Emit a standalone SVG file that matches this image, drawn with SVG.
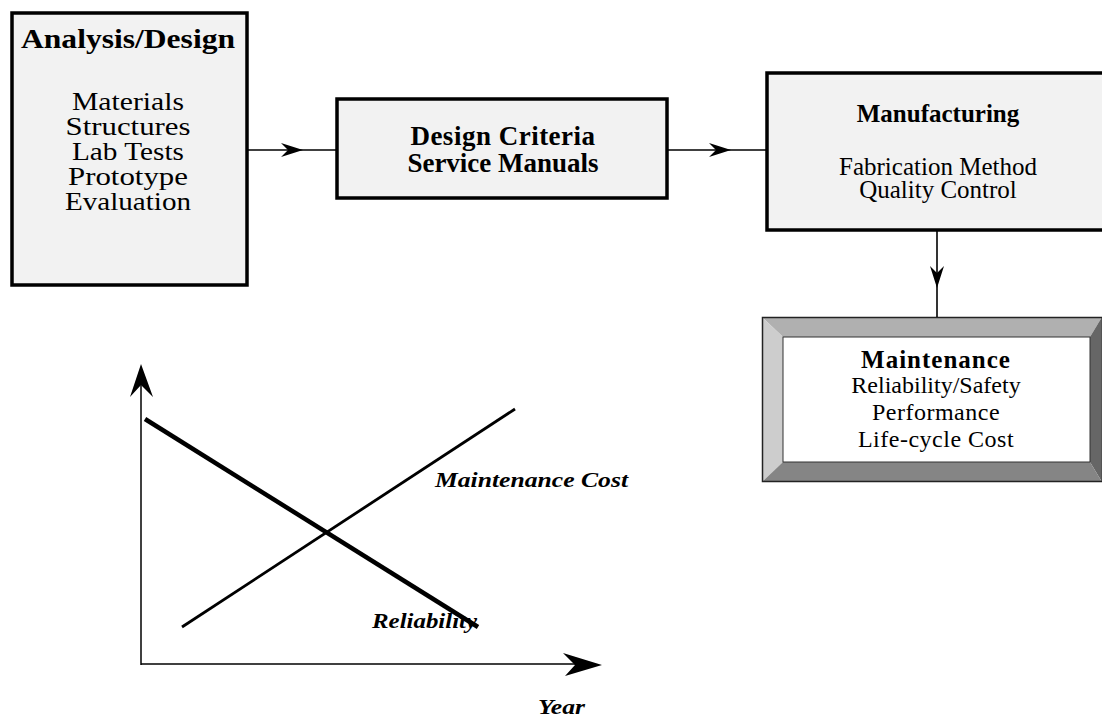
<svg xmlns="http://www.w3.org/2000/svg" width="1102" height="720" viewBox="0 0 1102 720">
<defs>
<style>
.box{fill:#f2f2f2;stroke:#000;stroke-width:3.5}
.t{font-family:"Liberation Serif","Times New Roman",serif;fill:#000;text-anchor:middle}
.b{font-weight:bold}
.bi{font-weight:bold;font-style:italic;text-anchor:start}
.ln{stroke:#000;stroke-width:1.6;fill:none}
.ah{fill:#000;stroke:none}
</style>
</defs>
<rect width="1102" height="720" fill="#fff"/>
<g id="analysis">
<rect class="box" x="12" y="13" width="235" height="272"/>
<text class="t b" x="128" y="48" font-size="27" textLength="214" lengthAdjust="spacingAndGlyphs">Analysis/Design</text>
<text class="t" x="128" y="110" font-size="26" textLength="112" lengthAdjust="spacingAndGlyphs">Materials</text>
<text class="t" x="128" y="135" font-size="26" textLength="125" lengthAdjust="spacingAndGlyphs">Structures</text>
<text class="t" x="128" y="160" font-size="26" textLength="112" lengthAdjust="spacingAndGlyphs">Lab Tests</text>
<text class="t" x="128" y="185" font-size="26" textLength="120" lengthAdjust="spacingAndGlyphs">Prototype</text>
<text class="t" x="128" y="210" font-size="26" textLength="126" lengthAdjust="spacingAndGlyphs">Evaluation</text>
</g>
<g id="criteria">
<rect class="box" x="337" y="99" width="330" height="99"/>
<text class="t b" x="503" y="145" font-size="27" letter-spacing="0.5">Design Criteria</text>
<text class="t b" x="503" y="172" font-size="27">Service Manuals</text>
</g>
<g id="manufacturing">
<rect class="box" x="767" y="73" width="345" height="157"/>
<text class="t b" x="938" y="122" font-size="25">Manufacturing</text>
<text class="t" x="938" y="175" font-size="25">Fabrication Method</text>
<text class="t" x="938" y="198" font-size="25">Quality Control</text>
</g>
<g id="maintenance">
<polygon points="762,317 1102,317 1090,337 783,337" fill="#b0b0b0"/>
<polygon points="762,317 783,337 783,462 762,482" fill="#cdcdcd"/>
<polygon points="1102,317 1102,482 1090,462 1090,337" fill="#666"/>
<polygon points="762,482 783,462 1090,462 1102,482" fill="#858585"/>
<rect x="762.5" y="317.5" width="340" height="164" fill="none" stroke="#222" stroke-width="1.5"/>
<rect x="783" y="337" width="307" height="125" fill="#fff" stroke="#333" stroke-width="1"/>
<text class="t b" x="936" y="368" font-size="25" letter-spacing="1">Maintenance</text>
<text class="t" x="936" y="393" font-size="24">Reliability/Safety</text>
<text class="t" x="936" y="420" font-size="24" letter-spacing="0.5">Performance</text>
<text class="t" x="936" y="447" font-size="24" letter-spacing="0.5">Life-cycle Cost</text>
</g>
<g id="connectors">
<line class="ln" x1="247" y1="150" x2="337" y2="150"/>
<polygon class="ah" points="303,150 281,143 288,150 281,157"/>
<line class="ln" x1="667" y1="150" x2="767" y2="150"/>
<polygon class="ah" points="731,150 709,143 716,150 709,157"/>
<line class="ln" x1="937" y1="230" x2="937" y2="317"/>
<polygon class="ah" points="937,288 930,266 937,273 944,266"/>
</g>
<g id="chart">
<line x1="141" y1="380" x2="141" y2="665" stroke="#000" stroke-width="1.5"/>
<polygon class="ah" points="141,364 153,397 141,385 130,397"/>
<line x1="141" y1="664" x2="585" y2="664" stroke="#000" stroke-width="1.5"/>
<polygon class="ah" points="602,665 563,653 575,665 565,676"/>
<line x1="145" y1="419" x2="478" y2="627" stroke="#000" stroke-width="4.5"/>
<line x1="182" y1="627" x2="515" y2="409" stroke="#000" stroke-width="2.8"/>
<text class="t bi" x="435" y="487" font-size="20" textLength="193" lengthAdjust="spacingAndGlyphs">Maintenance Cost</text>
<text class="t bi" x="372" y="628" font-size="21" textLength="105" lengthAdjust="spacingAndGlyphs">Reliability</text>
<text class="t bi" x="538" y="714" font-size="20" textLength="47" lengthAdjust="spacingAndGlyphs">Year</text>
</g>
</svg>
